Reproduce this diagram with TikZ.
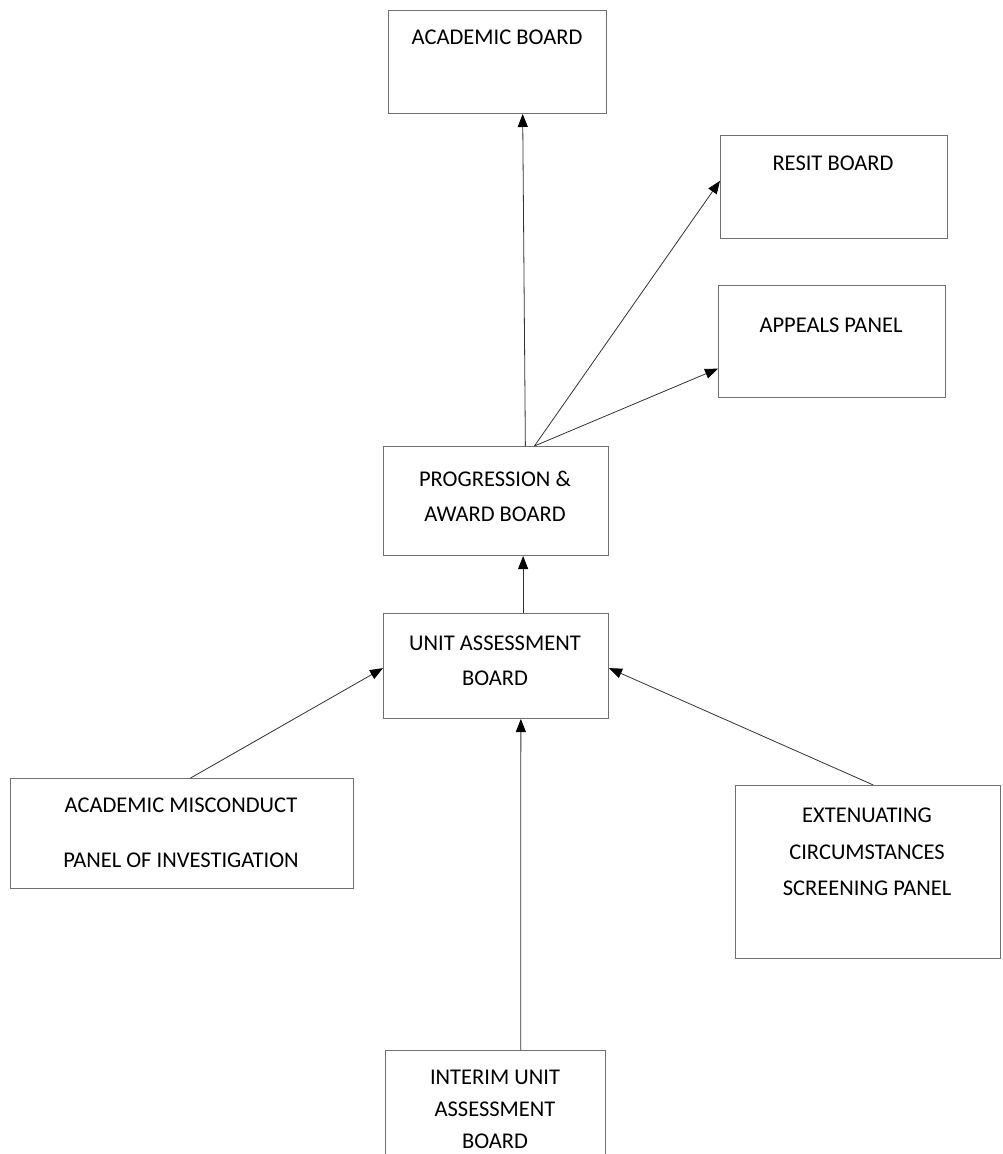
\documentclass[tikz,border=0pt]{standalone}
\usepackage{fontspec}
\setmainfont{Carlito}
\usetikzlibrary{arrows.meta,calc}
\definecolor{boxgray}{HTML}{707070}
\definecolor{linegray}{HTML}{333333}
\begin{document}
\begin{tikzpicture}[x=1pt,y=-1pt,
  box/.style={draw=boxgray, line width=1pt, anchor=north west, inner sep=0pt, fill=white},
  lbl/.style={font=\fontsize{22.5}{35}\selectfont, align=center, inner sep=0pt, anchor=north, text=black},
  conn/.style={draw=linegray, line width=0.8pt, -{Triangle[length=13pt,width=10pt,color=black]}}]
\useasboundingbox (0,0) rectangle (1003,1154);
\clip (0,0) rectangle (1003,1154);
% boxes
\node[box, minimum width=218pt, minimum height=103pt] (acad) at (388,10) {};
\node[box, minimum width=227pt, minimum height=103pt] (resit) at (720,135) {};
\node[box, minimum width=227pt, minimum height=112pt] (appeal) at (718,285) {};
\node[box, minimum width=225pt, minimum height=109pt] (pa) at (383,446) {};
\node[box, minimum width=225pt, minimum height=105pt] (uab) at (383,613) {};
\node[box, minimum width=343pt, minimum height=110pt] (misc) at (10,778) {};
\node[box, minimum width=265pt, minimum height=173pt] (ext) at (735,785) {};
\node[box, minimum width=220pt, minimum height=112pt] (interim) at (385,1050) {};
% labels
\node[lbl] (acadT) at (497,30) {ACADEMIC BOARD};
\node[lbl] (resitT) at (833,156) {RESIT BOARD};
\node[lbl] (appealT) at (831,318) {APPEALS PANEL};
\node[lbl] (paT) at (495,471) {PROGRESSION \&\\AWARD BOARD};
\node[lbl] (uabT) at (495,636) {UNIT ASSESSMENT\\BOARD};
\node[lbl, font=\fontsize{22.5}{55}\selectfont] (miscT) at (181,798) {ACADEMIC MISCONDUCT\\PANEL OF INVESTIGATION};
\node[lbl, font=\fontsize{22.5}{36.5}\selectfont] (extT) at (867,808) {EXTENUATING\\CIRCUMSTANCES\\SCREENING PANEL};
\node[lbl, font=\fontsize{22.5}{32}\selectfont] (interimT) at (495,1070) {INTERIM UNIT\\ASSESSMENT\\BOARD};
% connectors
\draw[conn] ($(pa.north west)!0.63!(pa.north east)$) -- ($(acad.south west)!0.615!(acad.south east)$);
\draw[conn] ($(pa.north west)!0.67!(pa.north east)$) -- ($(resit.north west)!0.44!(resit.south west)$);
\draw[conn] ($(pa.north west)!0.67!(pa.north east)$) -- ($(appeal.north west)!0.74!(appeal.south west)$);
\draw[conn] ($(uab.north west)!0.62!(uab.north east)$) -- ($(pa.south west)!0.62!(pa.south east)$);
\draw[conn] ($(misc.north west)!0.525!(misc.north east)$) -- ($(uab.north west)!0.52!(uab.south west)$);
\draw[conn] ($(ext.north west)!0.52!(ext.north east)$) -- ($(uab.north east)!0.52!(uab.south east)$);
\draw[conn] ($(interim.north west)!0.614!(interim.north east)$) -- ($(uab.south west)!0.61!(uab.south east)$);
\end{tikzpicture}
\end{document}
